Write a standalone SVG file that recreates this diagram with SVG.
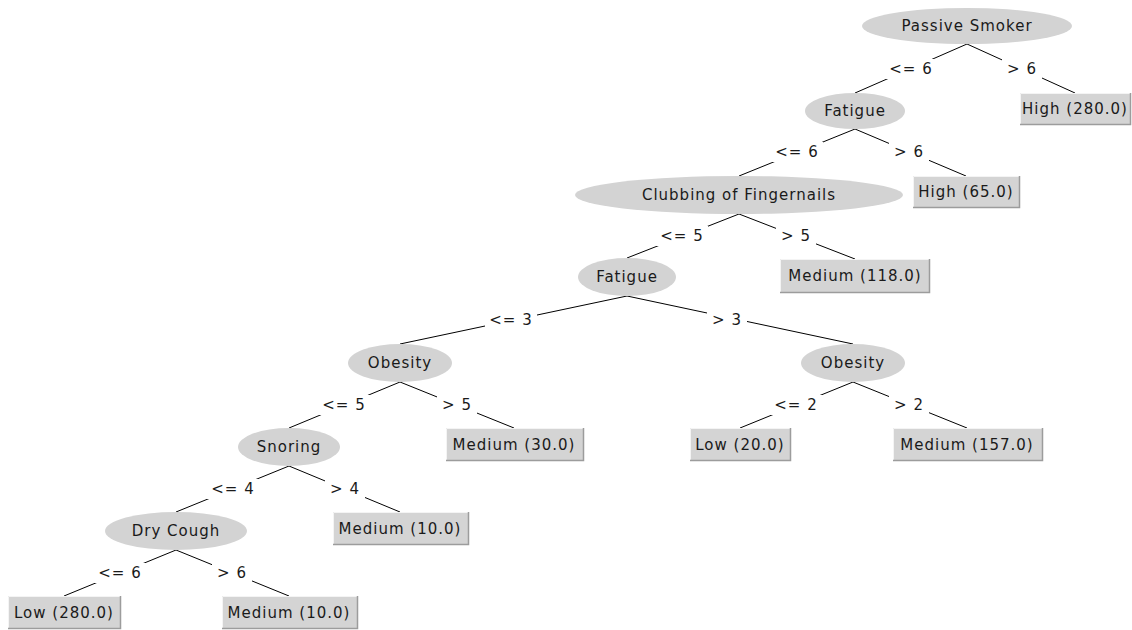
<svg xmlns="http://www.w3.org/2000/svg" width="1132" height="630" viewBox="0 0 1132 630">
<style>
.bg{fill:#ffffff}
.ell{fill:#d3d3d3;stroke:none}
.box{fill:#d4d4d4;stroke:none}
.hi{stroke:#f4f4f4;stroke-width:1;fill:none}
.lo{stroke:#9c9c9c;stroke-width:1.5;fill:none}
.edge{stroke:#000000;stroke-width:1;fill:none}
.lblbg{fill:#ffffff}
text{font-family:"DejaVu Sans","Liberation Sans",sans-serif;font-size:15px;fill:#1a1a1a;text-anchor:middle;letter-spacing:1px}
</style>
<rect class="bg" x="0" y="0" width="1132" height="630"/>
<g id="connectors">
  <g id="e1"><line class="edge" x1="967" y1="44" x2="855" y2="93"/><rect class="lblbg" x="885" y="59" width="52" height="20"/><text x="911" y="74">&lt;= 6</text></g>
  <g id="e2"><line class="edge" x1="967" y1="44" x2="1075" y2="93"/><rect class="lblbg" x="1002" y="59" width="40" height="20"/><text x="1022" y="74">&gt; 6</text></g>
  <g id="e3"><line class="edge" x1="855" y1="129" x2="739" y2="176"/><rect class="lblbg" x="771" y="142" width="52" height="20"/><text x="797" y="157">&lt;= 6</text></g>
  <g id="e4"><line class="edge" x1="855" y1="129" x2="966" y2="176"/><rect class="lblbg" x="889" y="142" width="40" height="20"/><text x="909" y="157">&gt; 6</text></g>
  <g id="e5"><line class="edge" x1="739" y1="214" x2="627" y2="258"/><rect class="lblbg" x="656" y="226" width="52" height="20"/><text x="682" y="241">&lt;= 5</text></g>
  <g id="e6"><line class="edge" x1="739" y1="214" x2="855" y2="259"/><rect class="lblbg" x="776" y="226" width="40" height="20"/><text x="796" y="241">&gt; 5</text></g>
  <g id="e7"><line class="edge" x1="627" y1="296" x2="400" y2="344"/><rect class="lblbg" x="485" y="310" width="52" height="20"/><text x="511" y="325">&lt;= 3</text></g>
  <g id="e8"><line class="edge" x1="627" y1="296" x2="853" y2="344"/><rect class="lblbg" x="707" y="310" width="40" height="20"/><text x="727" y="325">&gt; 3</text></g>
  <g id="e9"><line class="edge" x1="400" y1="382" x2="289" y2="428"/><rect class="lblbg" x="318" y="395" width="52" height="20"/><text x="344" y="410">&lt;= 5</text></g>
  <g id="e10"><line class="edge" x1="400" y1="382" x2="514" y2="428"/><rect class="lblbg" x="437" y="395" width="40" height="20"/><text x="457" y="410">&gt; 5</text></g>
  <g id="e11"><line class="edge" x1="853" y1="382" x2="740" y2="428"/><rect class="lblbg" x="770" y="395" width="52" height="20"/><text x="796" y="410">&lt;= 2</text></g>
  <g id="e12"><line class="edge" x1="853" y1="382" x2="967" y2="428"/><rect class="lblbg" x="889" y="395" width="40" height="20"/><text x="909" y="410">&gt; 2</text></g>
  <g id="e13"><line class="edge" x1="289" y1="466" x2="176" y2="512"/><rect class="lblbg" x="207" y="479" width="52" height="20"/><text x="233" y="494">&lt;= 4</text></g>
  <g id="e14"><line class="edge" x1="289" y1="466" x2="400" y2="512"/><rect class="lblbg" x="325" y="479" width="40" height="20"/><text x="345" y="494">&gt; 4</text></g>
  <g id="e15"><line class="edge" x1="176" y1="550" x2="64" y2="596"/><rect class="lblbg" x="94" y="563" width="52" height="20"/><text x="120" y="578">&lt;= 6</text></g>
  <g id="e16"><line class="edge" x1="176" y1="550" x2="289" y2="596"/><rect class="lblbg" x="212" y="563" width="40" height="20"/><text x="232" y="578">&gt; 6</text></g>
</g>
<g id="n1"><ellipse class="ell" cx="967" cy="26" rx="105" ry="18"/><text x="967" y="31">Passive Smoker</text></g>
<g id="n2"><rect class="box" x="1020" y="93" width="110" height="32"/><path class="hi" d="M1020.5,124 V93.5 H1130"/><path class="lo" d="M1020,124.5 H1130.5 V93"/><text x="1075" y="114">High (280.0)</text></g>
<g id="n3"><ellipse class="ell" cx="855" cy="111" rx="50" ry="18"/><text x="855" y="116">Fatigue</text></g>
<g id="n4"><ellipse class="ell" cx="739" cy="195" rx="164" ry="19"/><text x="739" y="200">Clubbing of Fingernails</text></g>
<g id="n5"><rect class="box" x="913" y="176" width="106" height="32"/><path class="hi" d="M913.5,207 V176.5 H1019"/><path class="lo" d="M913,207.5 H1019.5 V176"/><text x="966" y="197">High (65.0)</text></g>
<g id="n6"><ellipse class="ell" cx="627" cy="277" rx="49" ry="19"/><text x="627" y="282">Fatigue</text></g>
<g id="n7"><rect class="box" x="780" y="259" width="149" height="34"/><path class="hi" d="M780.5,292 V259.5 H929"/><path class="lo" d="M780,292.5 H929.5 V259"/><text x="855" y="281">Medium (118.0)</text></g>
<g id="n8"><ellipse class="ell" cx="400" cy="363" rx="52" ry="19"/><text x="400" y="368">Obesity</text></g>
<g id="n9"><ellipse class="ell" cx="853" cy="363" rx="52" ry="19"/><text x="853" y="368">Obesity</text></g>
<g id="n10"><ellipse class="ell" cx="289" cy="447" rx="51" ry="19"/><text x="289" y="452">Snoring</text></g>
<g id="n11"><rect class="box" x="446" y="428" width="137" height="33"/><path class="hi" d="M446.5,460 V428.5 H583"/><path class="lo" d="M446,460.5 H583.5 V428"/><text x="514" y="450">Medium (30.0)</text></g>
<g id="n12"><rect class="box" x="690" y="428" width="100" height="33"/><path class="hi" d="M690.5,460 V428.5 H790"/><path class="lo" d="M690,460.5 H790.5 V428"/><text x="740" y="450">Low (20.0)</text></g>
<g id="n13"><rect class="box" x="893" y="428" width="149" height="33"/><path class="hi" d="M893.5,460 V428.5 H1042"/><path class="lo" d="M893,460.5 H1042.5 V428"/><text x="967" y="450">Medium (157.0)</text></g>
<g id="n14"><ellipse class="ell" cx="176" cy="531" rx="71" ry="19"/><text x="176" y="536">Dry Cough</text></g>
<g id="n15"><rect class="box" x="333" y="512" width="135" height="33"/><path class="hi" d="M333.5,544 V512.5 H468"/><path class="lo" d="M333,544.5 H468.5 V512"/><text x="400" y="534">Medium (10.0)</text></g>
<g id="n16"><rect class="box" x="8" y="596" width="112" height="33"/><path class="hi" d="M8.5,628 V596.5 H120"/><path class="lo" d="M8,628.5 H120.5 V596"/><text x="64" y="618">Low (280.0)</text></g>
<g id="n17"><rect class="box" x="222" y="596" width="135" height="33"/><path class="hi" d="M222.5,628 V596.5 H357"/><path class="lo" d="M222,628.5 H357.5 V596"/><text x="289" y="618">Medium (10.0)</text></g>
</svg>
